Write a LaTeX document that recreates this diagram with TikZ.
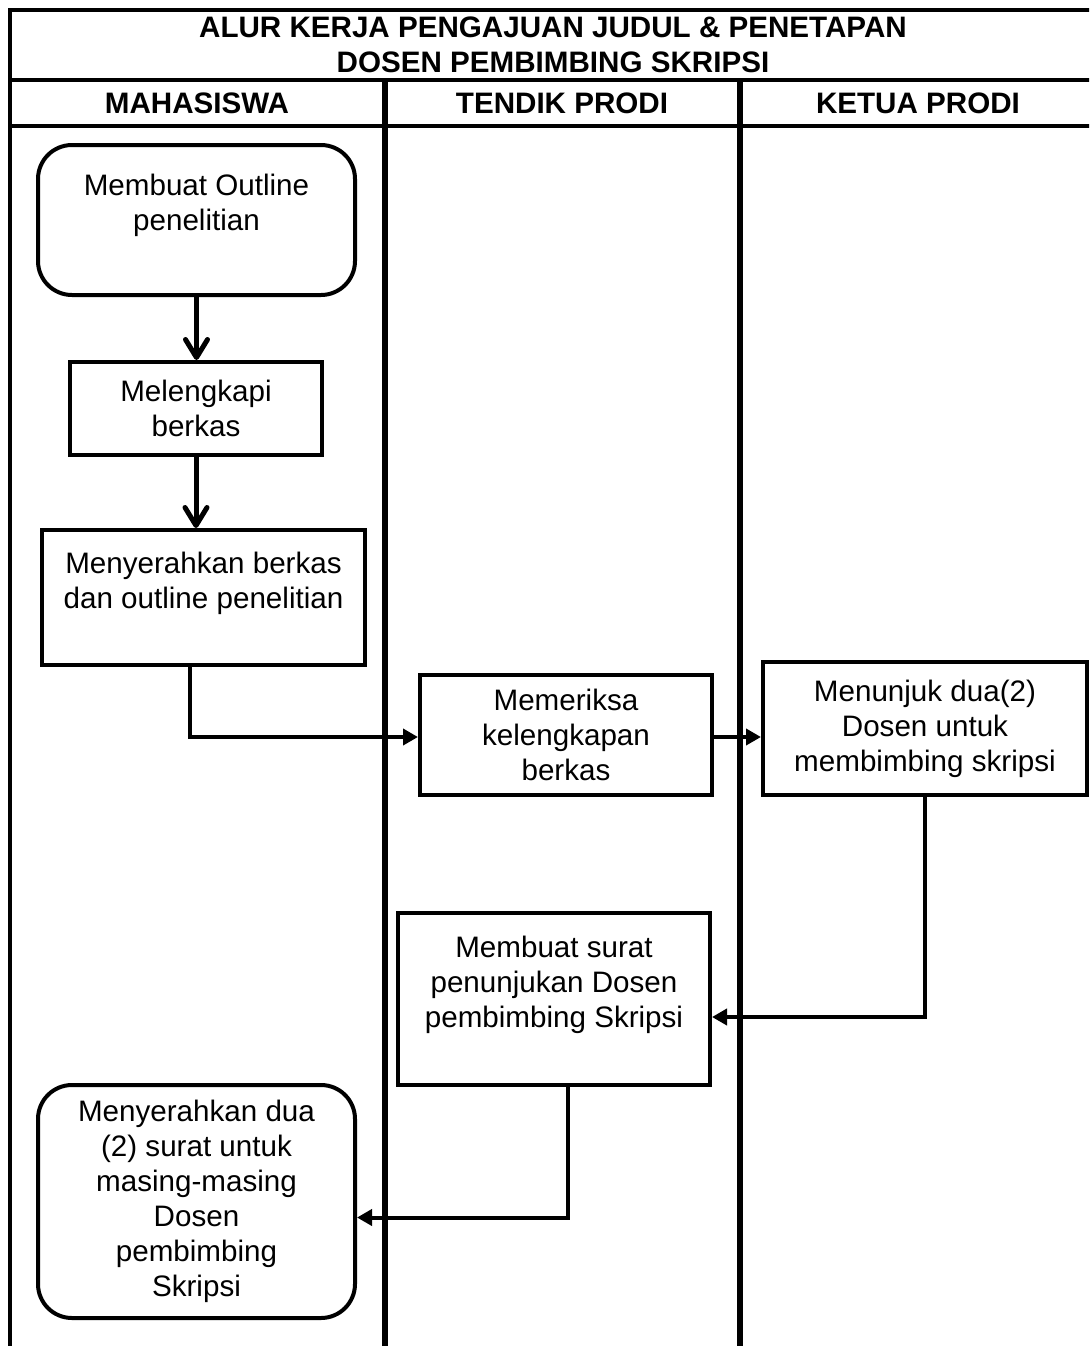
\documentclass[tikz,border=0pt]{standalone}
\usepackage{fontspec}
\setmainfont{Liberation Sans}
\usetikzlibrary{arrows.meta}

\tikzset{
  flowdown/.style={line width=2.5pt,-{Straight Barb[length=9pt,width=11pt,round]}},
  flowside/.style={line width=2pt,-{Triangle[length=7.5pt,width=8pt]}}
}

\begin{document}
\begin{tikzpicture}[x=0.5pt,y=-0.5pt,line width=2pt]

        \useasboundingbox (0,0) rectangle (1089,1346);
        \clip (0,0) rectangle (1089,1346);

        % lanes
        \draw (10,1346) -- (10,10) -- (1100,10);
        \draw (10,80) -- (1100,80);
        \draw (10,126) -- (1100,126);
        \draw[line width=3pt] (385,80) -- (385,1346);
        \draw[line width=3pt] (740,80) -- (740,1346);

        \begin{scope}[every node/.style={align=center,font=\bfseries\fontsize{14.8}{17.5}\selectfont}]
          \node (title) at (553,45)  {ALUR KERJA PENGAJUAN JUDUL \& PENETAPAN\\DOSEN PEMBIMBING SKRIPSI};
          \node (mhs)   at (197,103) {MAHASISWA};
          \node (tendik) at (562,103) {TENDIK PRODI};
          \node (kaprodi) at (918,103) {KETUA PRODI};
        \end{scope}

        \begin{scope}[every node/.style={draw,fill=white,align=center,inner sep=0pt,
            font=\fontsize{14.8}{17.5}\selectfont}]
          \node[rounded corners=17pt,minimum width=158.5pt,minimum height=75pt]
            (1) at (196.5,220) {Membuat Outline\\penelitian\\~};
          \node[minimum width=126pt,minimum height=46.5pt]
            (2) at (196,408.5) {Melengkapi\\berkas};
          \node[minimum width=161.5pt,minimum height=67.5pt]
            (3) at (203.5,597.5) {Menyerahkan berkas\\dan outline penelitian\\~};
          \node[minimum width=146pt,minimum height=60pt]
            (4) at (566,735) {Memeriksa\\kelengkapan\\berkas};
          \node[minimum width=162pt,minimum height=66.5pt]
            (5) at (925,728.5) {Menunjuk dua(2)\\Dosen untuk\\membimbing skripsi};
          \node[minimum width=156pt,minimum height=86pt]
            (6) at (554,999) {Membuat surat\\penunjukan Dosen\\pembimbing Skripsi\\~};
          \node[rounded corners=17pt,minimum width=158.5pt,minimum height=116.5pt]
            (7) at (196.5,1201.5) {Menyerahkan dua\\(2) surat untuk\\masing-masing\\Dosen\\pembimbing\\Skripsi};
        \end{scope}

        \draw[flowdown] (1) -- (1 |- 2.north);
        \draw[flowdown] (2) -- (2 |- 3.north);
        \begin{scope}[flowside]
          \draw ([xshift=-7pt]3.south) |- ([yshift=-1pt]4.west);
          \draw ([yshift=-1pt]4.east) -- ([yshift=-1pt]4.east -| 5.west);
          \draw (5.south) |- ([yshift=-9pt]6.east);
          \draw ([xshift=7pt]6.south) |- ([yshift=-8pt]7.east);
        \end{scope}

      \end{tikzpicture}
\end{document}
